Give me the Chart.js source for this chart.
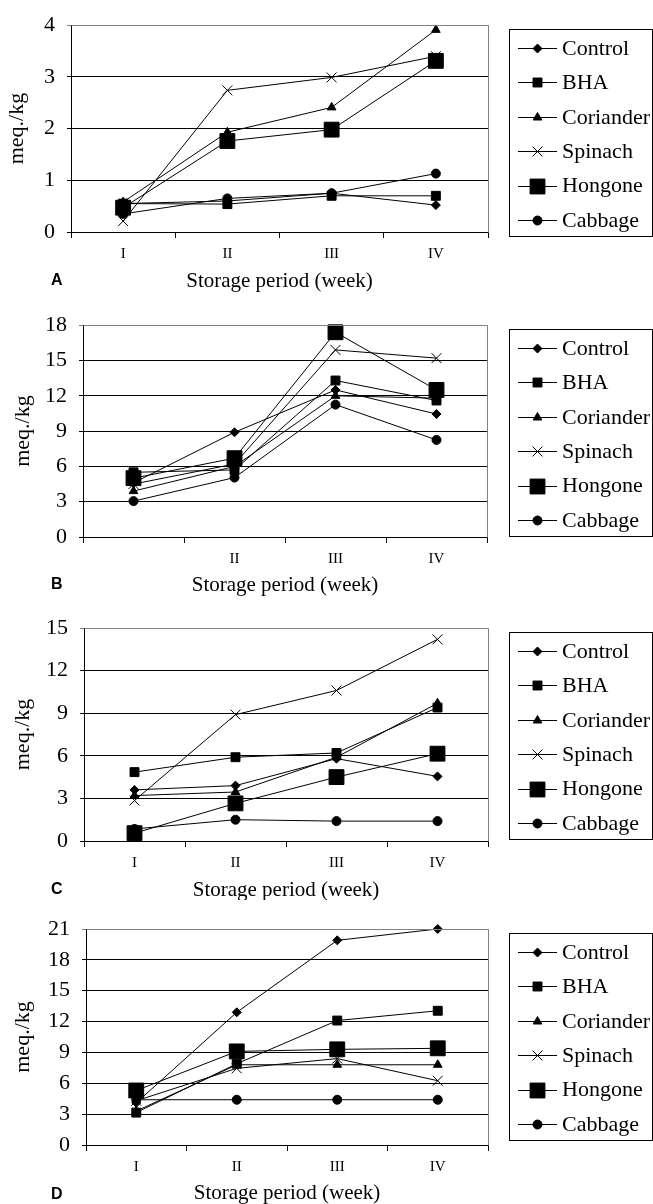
<!DOCTYPE html>
<html>
<head>
<meta charset="utf-8">
<script src="https://cdn.jsdelivr.net/npm/chart.js@4.4.1/dist/chart.umd.min.js"></script>
<style>
  body { margin: 0; background: #fff; width: 653px; height: 1204px; position: relative; overflow: hidden; }
  canvas { position: absolute; left: 0; }
</style>
</head>
<body>
<canvas id="chartA" width="653" height="300" style="top:0px"></canvas>
<canvas id="chartB" width="653" height="300" style="top:300px"></canvas>
<canvas id="chartC" width="653" height="300" style="top:600px"></canvas>
<canvas id="chartD" width="653" height="304" style="top:900px"></canvas>
<script>
// categories and tick labels
const weeks = ['I', 'II', 'III', 'IV'];
const seriesNames = ['Control', 'BHA', 'Coriander', 'Spinach', 'Hongone', 'Cabbage'];
const tickLabelsA = ['I', 'II', 'III', 'IV'];
const tickLabelsB = ['', 'II', 'III', 'IV'];
const tickLabelsC = ['I', 'II', 'III', 'IV'];
const tickLabelsD = ['I', 'II', 'III', 'IV'];
const yMaxes = [4, 18, 15, 21];
const ySteps = [1, 3, 3, 3];

// panel A
const controlA   = [0.55, 0.60, 0.75, 0.52];
const bhaA       = [0.55, 0.54, 0.70, 0.70];
const corianderA = [0.58, 1.93, 2.41, 3.91];
const spinachA   = [0.21, 2.74, 2.99, 3.40];
const hongoneA   = [0.47, 1.76, 1.98, 3.31];
const cabbageA   = [0.35, 0.65, 0.75, 1.13];

// panel B
const controlB   = [4.6, 8.9, 12.5, 10.45];
const bhaB       = [5.5, 5.7, 13.3, 11.6];
const corianderB = [3.9, 6.0, 12.0, 11.8];
const spinachB   = [4.5, 6.2, 15.9, 15.2];
const hongoneB   = [5.0, 6.7, 17.4, 12.5];
const cabbageB   = [3.05, 5.05, 11.25, 8.25];

// panel C
const controlC   = [3.6, 3.9, 5.8, 4.55];
const bhaC       = [4.85, 5.9, 6.2, 9.4];
const corianderC = [3.2, 3.45, 5.9, 9.7];
const spinachC   = [2.85, 8.9, 10.6, 14.2];
const hongoneC   = [0.55, 2.65, 4.5, 6.15];
const cabbageC   = [0.85, 1.5, 1.4, 1.4];

// panel D
const controlD   = [4.1, 12.9, 19.9, 21.0];
const bhaD       = [3.15, 7.9, 12.1, 13.05];
const corianderD = [3.3, 7.8, 7.8, 7.8];
const spinachD   = [4.3, 7.45, 8.4, 6.25];
const hongoneD   = [5.3, 9.1, 9.3, 9.4];
const cabbageD   = [4.4, 4.4, 4.4, 4.4];

// marker look per series
const pointStyles = ['rectRot', 'rect', 'triangle', 'crossRot', 'rect', 'circle'];
const pointRadii = [4.5, 6.3, 5, 7, 10.5, 4.5];

const serif = 'Liberation Serif, Times New Roman, serif';

const panels = [
  { id: 'chartA', letter: 'A', ticks: tickLabelsA, series: [controlA, bhaA, corianderA, spinachA, hongoneA, cabbageA],
    plotTop: 18, plotBottom: 232, axisLeft: 71, plotRight: 488, titleY: 281, letterY: 281, yTitleX: 17 },
  { id: 'chartB', letter: 'B', ticks: tickLabelsB, series: [controlB, bhaB, corianderB, spinachB, hongoneB, cabbageB],
    plotTop: 25, plotBottom: 237, axisLeft: 83, plotRight: 487, titleY: 285, letterY: 285, yTitleX: 23 },
  { id: 'chartC', letter: 'C', ticks: tickLabelsC, series: [controlC, bhaC, corianderC, spinachC, hongoneC, cabbageC],
    plotTop: 28, plotBottom: 241, axisLeft: 84, plotRight: 488, titleY: 290, letterY: 290, yTitleX: 23 },
  { id: 'chartD', letter: 'D', ticks: tickLabelsD, series: [controlD, bhaD, corianderD, spinachD, hongoneD, cabbageD],
    plotTop: 29, plotBottom: 245, axisLeft: 86, plotRight: 488, titleY: 293, letterY: 295, yTitleX: 23 }
];

// border, legend box, titles and panel letter
const panelDecor = {
  id: 'panelDecor',
  afterDraw(chart, args, opts) {
    const ctx = chart.ctx;
    const a = chart.chartArea;
    ctx.save();
    // gray frame on top and right
    ctx.strokeStyle = '#808080';
    ctx.lineWidth = 1;
    ctx.beginPath();
    ctx.moveTo(Math.round(a.left) + 0.5, Math.round(a.top) + 0.5);
    ctx.lineTo(Math.round(a.right) + 0.5, Math.round(a.top) + 0.5);
    ctx.lineTo(Math.round(a.right) + 0.5, Math.round(a.bottom) + 0.5);
    ctx.stroke();

    // legend
    const boxTop = Math.round(a.top) + 4;
    ctx.strokeStyle = '#000';
    ctx.strokeRect(509.5, boxTop + 0.5, 143, 207);
    ctx.font = '22px ' + serif;
    ctx.textBaseline = 'middle';
    ctx.textAlign = 'left';
    chart.data.datasets.forEach((ds, i) => {
      const y = boxTop + 19 + i * 34.4;
      ctx.strokeStyle = '#000';
      ctx.lineWidth = 1;
      ctx.beginPath();
      ctx.moveTo(518, Math.round(y) + 0.5);
      ctx.lineTo(557, Math.round(y) + 0.5);
      ctx.stroke();
      ctx.fillStyle = '#000';
      Chart.helpers.drawPoint(ctx, {
        pointStyle: ds.pointStyle, radius: ds.pointRadius, borderWidth: 1, rotation: 0
      }, 537.5, Math.round(y) + 0.5);
      ctx.fillStyle = '#000';
      ctx.fillText(ds.label, 562, y + 1);
    });

    // axis titles
    ctx.fillStyle = '#000';
    ctx.textAlign = 'center';
    ctx.font = '21px ' + serif;
    ctx.fillText('Storage period (week)', (a.left + a.right) / 2, opts.titleY);
    ctx.save();
    ctx.translate(opts.yTitleX, (a.top + a.bottom) / 2);
    ctx.rotate(-Math.PI / 2);
    ctx.font = '22px ' + serif;
    ctx.fillText('meq./kg', 0, 0);
    ctx.restore();

    // panel letter
    ctx.textAlign = 'left';
    ctx.font = 'bold 16px Liberation Sans, Arial, sans-serif';
    ctx.fillText(opts.letter, 51, opts.letterY);
    ctx.restore();
  }
};

function makePanel(p, idx) {
  const canvas = document.getElementById(p.id);
  const yMax = yMaxes[idx];
  new Chart(canvas, {
    type: 'line',
    data: {
      labels: weeks,
      datasets: seriesNames.map((name, i) => ({
        label: name,
        data: p.series[i],
        borderColor: '#000',
        backgroundColor: '#000',
        borderWidth: 1,
        pointStyle: pointStyles[i],
        pointRadius: pointRadii[i],
        pointBorderWidth: 1,
        pointBackgroundColor: '#000',
        pointBorderColor: '#000',
        tension: 0,
        fill: false,
        clip: false
      }))
    },
    options: {
      responsive: false,
      animation: false,
      devicePixelRatio: 1,
      layout: { padding: { top: p.plotTop, right: 653 - p.plotRight, bottom: 0, left: 0 } },
      plugins: {
        legend: { display: false },
        tooltip: { enabled: false },
        panelDecor: { titleY: p.titleY, letterY: p.letterY, letter: p.letter, yTitleX: p.yTitleX }
      },
      scales: {
        x: {
          type: 'category',
          offset: true,
          afterFit: (scale) => { scale.height = canvas.height - p.plotBottom; },
          grid: { offset: true, drawOnChartArea: false, drawTicks: true, tickLength: 6, color: '#000' },
          border: { display: true, color: '#000', width: 1 },
          ticks: {
            autoSkip: false, maxRotation: 0, padding: 7, color: '#000',
            font: { family: serif, size: 15 },
            callback: (val, i) => p.ticks[i]
          }
        },
        y: {
          min: 0,
          max: yMax,
          afterFit: (scale) => { scale.width = p.axisLeft; },
          grid: {
            drawTicks: true, tickLength: 4,
            color: (c) => (c.tick && c.tick.value === yMax ? '#808080' : '#000')
          },
          border: { display: true, color: '#000', width: 1 },
          ticks: {
            stepSize: ySteps[idx], padding: 12, color: '#000',
            font: { family: serif, size: 22 }
          }
        }
      }
    },
    plugins: [panelDecor]
  });
}

panels.forEach(makePanel);
</script>
</body>
</html>
